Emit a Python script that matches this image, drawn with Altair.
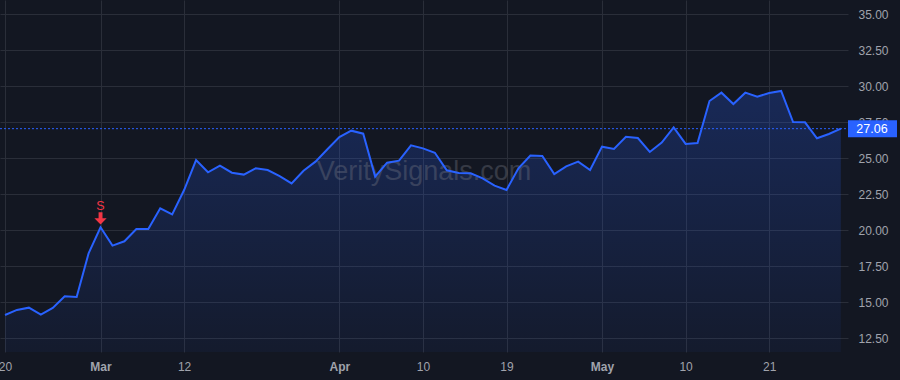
import altair as alt
import pandas as pd

# ---- data ----
prices = [14.12, 14.47, 14.63, 14.14, 14.61, 15.42, 15.37, 18.40, 20.21, 18.94,
          19.24, 20.09, 20.09, 21.53, 21.11, 22.80, 24.88, 24.03, 24.49, 24.00,
          23.87, 24.31, 24.19, 23.77, 23.26, 24.14, 24.77, 25.63, 26.48, 26.92,
          26.71, 23.73, 24.70, 24.84, 25.90, 25.69, 25.39, 24.17, 23.98, 23.96,
          23.61, 23.10, 22.80, 24.31, 25.19, 25.16, 23.91, 24.44, 24.77, 24.19,
          25.81, 25.65, 26.50, 26.41, 25.44, 26.09, 27.15, 26.00, 26.06, 28.98,
          29.56, 28.77, 29.56, 29.28, 29.54, 29.68, 27.52, 27.50, 26.39, 26.69,
          27.06]
tick_index = [0, 8, 15, 28, 35, 42, 50, 57, 64]
tick_text = ["20", "Mar", "12", "Apr", "10", "19", "May", "10", "21"]
tick_bold = ["Mar", "Apr", "May"]
y_ticks = [12.5, 15.0, 17.5, 20.0, 22.5, 25.0, 27.5, 30.0, 32.5, 35.0]
last_price = 27.06
signal_index = [8]
signal_label = ["S"]
watermark = "VeritySignals.com"

df = pd.DataFrame({"i": list(range(len(prices))), "price": prices})
sig = pd.DataFrame({"i": signal_index, "price": [prices[k] for k in signal_index],
                    "label": signal_label})

BG = "#131722"
GRID = "#2a2e39"
LINE = "#2962FF"
TXT = "#a0a3ac"
RED = "#F23645"
FONT = "Liberation Sans"

Y_MIN, Y_MAX = 11.55, 35.995
X_MIN, X_MAX = -0.42, 70.6

label_expr = " : ".join(
    f"datum.value == {i} ? '{t}'" for i, t in zip(tick_index, tick_text)) + " : ''"
bold_idx = [tick_index[tick_text.index(t)] for t in tick_bold]
bold_test = "indexof([" + ",".join(str(b) for b in bold_idx) + "], datum.value) >= 0"

x_scale = alt.Scale(domain=[X_MIN, X_MAX], nice=False, zero=False)
y_scale = alt.Scale(domain=[Y_MIN, Y_MAX], nice=False, zero=False)

x_enc = alt.X("i:Q", scale=x_scale,
              axis=alt.Axis(values=tick_index, tickCount=len(tick_index) + 5,
                            labelExpr=label_expr, title=None,
                            grid=True, gridColor=GRID, gridWidth=1, domain=False,
                            ticks=False, labelColor=TXT, labelFont=FONT, labelFontSize=12,
                            labelFontWeight={"condition": {"test": bold_test, "value": "bold"},
                                             "value": "normal"},
                            labelPadding=9, labelOverlap=False, labelBound=False,
                            labelFlush=False))
y_enc = alt.Y("price:Q", scale=y_scale,
              axis=alt.Axis(orient="right", values=y_ticks, tickCount=len(y_ticks) + 5,
                            format=".2f", title=None,
                            grid=True, gridColor=GRID, gridWidth=1, domain=False,
                            ticks=False, labelColor=TXT, labelFont=FONT, labelFontSize=12,
                            labelPadding=10, labelAlign="left", labelBaseline="middle",
                            labelOverlap=False, labelBound=False, labelFlush=False))

base = alt.Chart(df)

area = base.mark_area(
    color=alt.Gradient(gradient="linear", x1=0, y1=1, x2=0, y2=0,
                       stops=[alt.GradientStop(color="rgba(41,98,255,0.05)", offset=0),
                              alt.GradientStop(color="rgba(41,98,255,0.24)", offset=1)])
).encode(x=x_enc, y=y_enc, y2=alt.datum(Y_MIN))

wm = alt.Chart(pd.DataFrame({"t": [watermark]})).mark_text(
    font=FONT, fontSize=27, color="#787b86", opacity=0.35, align="center",
    baseline="alphabetic"
).encode(x=alt.value(424), y=alt.value(180), text="t:N")

line = base.mark_line(color=LINE, strokeWidth=2).encode(x="i:Q", y="price:Q")

pl = pd.DataFrame({"price": [last_price], "t": [f"{last_price:.2f}"]})
hline = alt.Chart(pl).mark_rule(color=LINE, strokeWidth=1, strokeDash=[2, 2]).encode(
    y="price:Q", x=alt.value(0), x2=alt.value(848))
box = alt.Chart(pl).mark_rect(color=LINE, yOffset=-8.5, y2Offset=8.5).encode(
    y="price:Q", y2="price:Q", x=alt.value(848), x2=alt.value(897))
box_txt = alt.Chart(pl).mark_text(color="white", font=FONT, fontSize=12.5,
                                  align="center", baseline="middle").encode(
    y="price:Q", x=alt.value(872), text="t:N")

arrow_path = "M-0.32,-1 L0.32,-1 L0.32,0 L1,0 L0,1 L-1,0 L-0.32,0 Z"
arrow = alt.Chart(sig).mark_point(shape=arrow_path, filled=True, color=RED, opacity=1,
                                  size=150, yOffset=-9, strokeWidth=0).encode(
    x="i:Q", y="price:Q")
s_txt = alt.Chart(sig).mark_text(color=RED, font=FONT, fontSize=12.5, align="center",
                                 baseline="middle", dy=-21).encode(
    x="i:Q", y="price:Q", text="label:N")

chart = alt.layer(area, wm, line, hline, box, box_txt, arrow, s_txt).properties(
    width=848, height=352,
    background=BG,
    padding={"left": 0, "top": 0, "right": 52, "bottom": 28},
    autosize=alt.AutoSizeParams(type="none"),
).configure_view(stroke=None)

chart.save("out.html", embed_options={"renderer": "svg", "actions": False})
